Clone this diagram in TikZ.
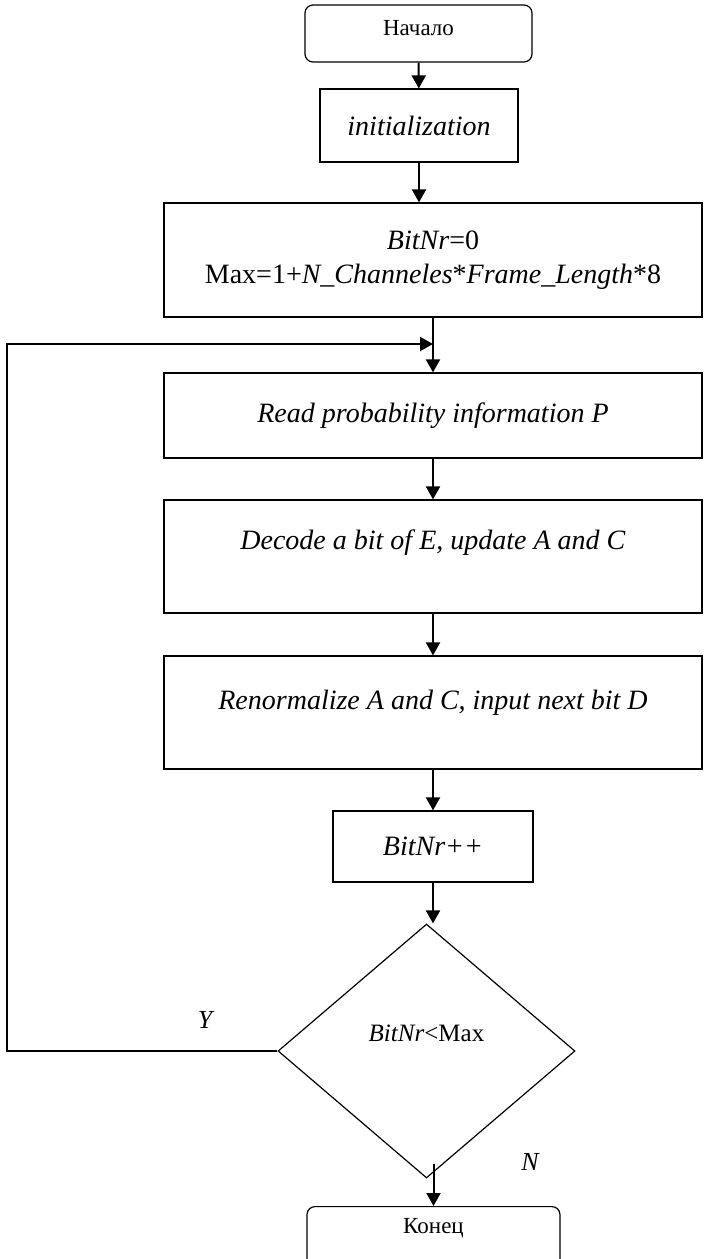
\documentclass[tikz,border=0pt]{standalone}
\usepackage{fontspec}
\setmainfont{Liberation Serif}
\usetikzlibrary{shapes.geometric,arrows.meta,calc}

\begin{document}
\begin{tikzpicture}[x=1pt, y=-1pt,
        box/.style = {draw, line width=1.2pt, inner sep=0pt, font=\fontsize{28}{34}\selectfont},
        terminal/.style = {box, rounded corners=8pt, font=\fontsize{23}{28}\selectfont},
        decision/.style = {box, diamond, font=\fontsize{25}{30}\selectfont},
        lbl/.style = {inner sep=0pt, font=\fontsize{26}{30}\selectfont\itshape},
        arr/.style = {line width=2pt, -{Triangle[length=13pt, width=14pt]}}]
    \useasboundingbox (0,0) rectangle (704,1259);
        \draw
            (418.5, 33.5) node [terminal, minimum width=227, minimum height=57, text depth=12pt] (start) {Начало}
            (419, 125.5) node [box, minimum width=198, minimum height=73] (init) {\textit{initialization}}
            (433, 260) node [box, align=center, minimum width=538, minimum height=114] (setup)
                {\textit{BitNr}=0\\Max=1+\textit{N\_Channeles}*\textit{Frame\_Length}*8}
            (433, 415.5) node [box, minimum width=538, minimum height=85] (read) {\textit{Read probability information P}}
            (433, 556.5) node [box, minimum width=538, minimum height=113, text depth=34pt] (decode)
                {\textit{Decode a bit of E, update A and C}}
            (433, 712.5) node [box, minimum width=538, minimum height=113, text depth=26pt] (renorm)
                {\textit{Renormalize A and C, input next bit D}}
            (433, 846.5) node [box, minimum width=200, minimum height=71] (inc) {\textit{BitNr++}}
            (426.5, 1051) node [decision, minimum width=297, minimum height=254, text depth=35pt] (test)
                {\textit{BitNr}<Max}
            (433.5, 1206) node [terminal, anchor=north, minimum width=253, minimum height=70, text depth=32pt] (end) {Конец}
            (205, 1020) node [lbl] (yes) {Y}
            (530, 1162) node [lbl] (no) {N}

            (start) edge [arr] (init)
            (init.south) edge [arr] (init.south |- setup.north)
            (setup) edge [arr] (read)
            (read) edge [arr] (decode)
            (decode) edge [arr] (renorm)
            (renorm) edge [arr] (inc)
            (inc.south) edge [arr] (inc.south |- test.north)
            ($(end.north |- test.south)+(0,-15)$) edge [arr] (end.north)
            ;
        \coordinate (merge) at (433, 344);
        \draw [arr] (test.west) -- ++(-270, 0) |- (merge);
    \end{tikzpicture}
\end{document}
